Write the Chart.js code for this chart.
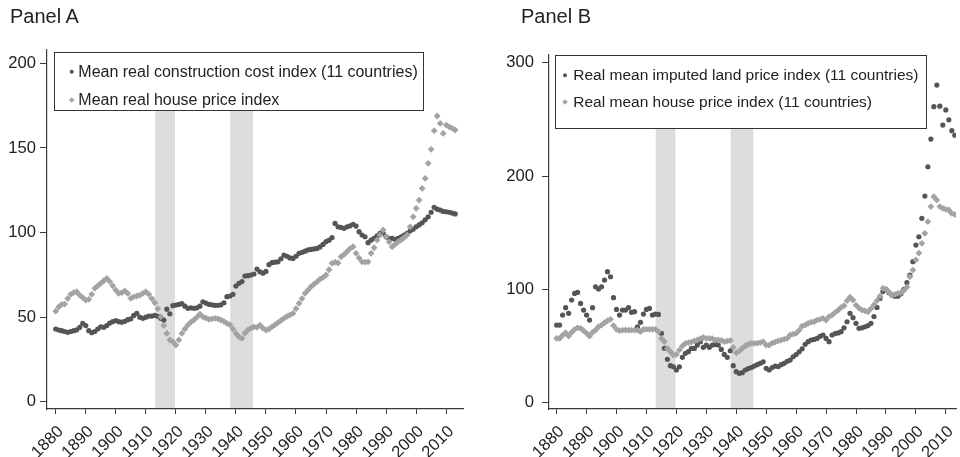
<!DOCTYPE html>
<html><head><meta charset="utf-8">
<script src="https://cdn.jsdelivr.net/npm/chart.js@4.4.1/dist/chart.umd.min.js"></script>
<style>
html,body{margin:0;padding:0;background:#fff;width:960px;height:457px;overflow:hidden;font-family:"Liberation Sans",Arial,Helvetica,sans-serif;color:#222;}
canvas{position:absolute;top:0;}
.title{position:absolute;font-size:20px;line-height:20px;white-space:nowrap;}
</style></head>
<body>
<canvas id="cA" width="480" height="457" style="left:0px;"></canvas>
<canvas id="cB" width="480" height="457" style="left:480px;"></canvas>
<div class="title" style="left:10px;top:6px;" id="tA"></div>
<div class="title" style="left:521px;top:6px;" id="tB"></div>

<script>
// ---------------- data ----------------
const years = [];
for (let y = 1880; y <= 2013; y++) years.push(y);

const titles = ["Panel A", "Panel B"];
const xTicks = [1880,1890,1900,1910,1920,1930,1940,1950,1960,1970,1980,1990,2000,2010];
const yTicksA = [0,50,100,150,200];
const yTicksB = [0,100,200,300];
const warBands = [[1913.1,1919.7],[1938.1,1945.7]];

const labelsA = ["Mean real construction cost index (11 countries)", "Mean real house price index"];
const labelsB = ["Real mean imputed land price index (11 countries)", "Real mean house price index (11 countries)"];

// Panel A: construction cost (dark circles)
const constructionCost = [
 43,42.4,42,41.5,41,41.5,42,42.5,44,46.3,
 45,42,40.8,41.5,43,44.3,44,45,46.5,47.3,
 48,47.3,47,47.5,48.5,49,51,52.2,50,49.3,
 50,50.6,50.6,51,50.5,49.3,48.3,54.7,52,56.8,
 57.1,57.5,58,56.5,55.2,55.5,55.2,55.5,56.5,59.1,
 58.3,57.6,57.3,57,57,57.3,58.5,62.1,62.5,63.5,
 68.4,70,71,74.3,74.5,74.9,75.5,78.4,76.8,76,
 77,81,82.2,82.5,82.7,84.5,86.7,86,85,84.7,
 86,87.7,88.3,89,89.7,90,90.3,90.6,91.5,93,
 94.6,95.5,97,105.4,103.4,103,102.5,103.4,104,104.9,
 103.8,100.5,98.5,97.5,94,95.5,96.6,98,99.5,99.5,
 97.5,96.6,96.6,96,96.6,97.5,98.5,99.5,101,102,
 103.4,104.5,105.8,107.5,109.3,112,114.9,113.8,113.3,112.5,
 112.3,112,111.5,111
];
// Panel A: house price (light diamonds)
const housePriceA = [
 53.5,56,57.5,57.7,61,63.5,64.5,65,63,61.5,
 60.1,60.5,63.5,67,68.5,70,71.5,72.9,71,68.5,
 66,64,64.5,65.5,64,61.1,62,62.5,63,64,
 65,63.5,61,58.5,55,50.2,45,40.4,36.5,35.5,
 33.5,36.5,40.4,43,45.3,47,48.3,50,51.8,50.2,
 49.5,48.7,49,49.3,49,48.3,47.5,46.3,45.5,43,
 40.4,38.4,37.5,40.5,42.4,43.5,44.3,44,45.3,43.5,
 42.4,43,44.3,45.5,46.7,48,49.3,50.5,51.3,52.2,
 55,58.1,61,64.1,66,68,69.5,70.9,72.5,73.5,
 74.9,78,81.8,82.5,82,85.7,87,88.7,90.5,91.6,
 87.7,85,82.7,82.5,82.7,87.7,91,95.6,98.5,101.5,
 97.5,94.5,91.6,93,94.6,95.6,97,98.6,103.4,109.3,
 114.3,119.2,126.1,132,140.9,149.2,160.2,168.9,164.5,158.6,
 163.5,162.5,161.6,160.6
];
// Panel B: imputed land price (dark circles)
const landPrice = [
 68.5,68.5,77.3,83.8,78.8,90.6,96.4,97.3,87.6,81.7,
 77.3,72.9,83.8,102.3,100.3,102.3,108.2,115.6,111.1,92.6,
 82.3,77.3,81.7,81.7,83.8,79.7,80.3,67,70.9,78.2,
 82.3,83.2,77.3,78.2,77.9,61.2,48,38.2,32.6,31.7,
 28.8,31.7,40,43.5,45,47.9,47.9,50.8,53.8,48.8,
 50.8,48.8,50.8,51.4,50.8,47,42.6,40,45.8,32.6,
 27.3,25.9,26.5,28.8,30.1,31,32.3,33.5,34.7,36,
 30.3,28.8,31,32.3,31.8,33.5,34.7,36.5,37.6,40.5,
 42.5,44.9,47.5,51.5,53.8,55.2,55.8,56.7,58.5,59.7,
 56.7,53.8,59.7,61,61.5,62.6,66,71.4,78.8,75,
 70,65.6,66,67,68,70,76,84,92,98,
 100,97,95,94,94,96,100,106,112.6,124.4,
 139.1,146.4,162.7,182.3,208.2,232.6,261.2,280.3,261.6,245,
 258.3,249.6,240,236
];
// Panel B: house price (light diamonds)
const housePriceB = [
 56.7,56.7,59.4,61.7,58.8,62,64.7,66,65.6,63.5,
 61.2,58.8,62,64.1,67,68.5,70.5,72.3,73.5,68,
 64.7,63.5,64,64.1,64,64,64.1,64,62.6,64.7,
 64.7,64.7,64.7,64.7,62.6,56.7,53.8,47.9,44.9,42,
 42.5,46.4,50,52.3,53,53.5,54.5,55.3,56.5,57.6,
 56.7,56.7,56.5,55.3,55.3,55,53.8,54.3,55,48.8,
 44,45.5,48,50,51.5,52.3,52.3,52.5,53,53.8,
 50.8,50.8,52.5,53.5,54.5,55.2,56,56.7,59.7,60.5,
 61.2,64,67.5,68.5,70,71,71.4,72.9,73.5,74.4,
 72.9,76,77.3,79.5,81.5,84,85.5,90,93,90.6,
 86,83.5,81.7,81,80.2,83,86.5,90,94,100.9,
 100,97.5,95,95.5,96.5,97,99,102,111,117,
 126,132,140.6,149.4,159.7,173,181.8,178.8,173,171.5,
 170.5,170,167,166
];

// ---------------- rendering ----------------
document.getElementById('tA').textContent = titles[0];
document.getElementById('tB').textContent = titles[1];

const FONT = '"Liberation Sans", Arial, Helvetica, sans-serif';
Chart.defaults.font.family = FONT;
Chart.defaults.color = '#222';

const DARK = '#555555', LIGHT = '#a3a3a3', SHADE = '#dcdddf', AXIS = '#3a3a3a';

const shadePlugin = {
  id: 'shade',
  beforeDraw(chart) {
    const {ctx, chartArea, scales} = chart;
    const top = chartArea.top + 3;
    ctx.save();
    ctx.fillStyle = SHADE;
    for (const [a, b] of warBands) {
      const x0 = scales.x.getPixelForValue(a), x1 = scales.x.getPixelForValue(b);
      ctx.fillRect(x0, top, x1 - x0, chartArea.bottom - top);
    }
    ctx.restore();
  }
};

// boxed legend drawn on the canvas, on top of everything
const boxLegend = {
  id: 'boxLegend',
  afterDraw(chart, args, o) {
    const ctx = chart.ctx;
    const [bx, by, bw, bh] = o.box;
    ctx.save();
    ctx.fillStyle = '#fff';
    ctx.fillRect(bx, by, bw, bh);
    ctx.strokeStyle = '#333';
    ctx.lineWidth = 1;
    ctx.strokeRect(bx + 0.5, by + 0.5, bw - 1, bh - 1);
    ctx.font = o.fontSize + 'px ' + FONT;
    ctx.textBaseline = 'alphabetic';
    ctx.textAlign = 'left';
    chart.data.datasets.forEach((ds, i) => {
      ctx.fillStyle = ds.backgroundColor;
      Chart.helpers.drawPoint(ctx, {pointStyle: ds.pointStyle, radius: o.markR[i], borderWidth: 0, rotation: 0},
                              o.markX, o.rowY[i] - 5);
      ctx.fillStyle = '#222';
      ctx.fillText(ds.label, o.textX, o.rowY[i]);
    });
    ctx.restore();
  }
};

function pts(vals) { return years.map((yr, i) => ({x: yr, y: vals[i]})); }
function noPad(s) { s.paddingLeft = 0; s.paddingRight = 0; s.paddingTop = 0; s.paddingBottom = 0; }

function build(id, darkVals, lightVals, labels, yTicks, xr, yr, yWidth, yPad, pad, legendOpts) {
  return new Chart(document.getElementById(id), {
    type: 'scatter',
    data: {
      datasets: [
        {label: labels[0], data: pts(darkVals), pointStyle: 'circle', pointRadius: 2.6,
         backgroundColor: DARK, borderWidth: 0, showLine: false, order: 1},
        {label: labels[1], data: pts(lightVals), pointStyle: 'rectRot', pointRadius: 3.4,
         backgroundColor: LIGHT, borderWidth: 0, showLine: false, order: 0}
      ]
    },
    options: {
      responsive: false, animation: false, events: [],
      layout: {padding: pad},
      plugins: {legend: {display: false}, tooltip: {enabled: false}, boxLegend: legendOpts},
      scales: {
        x: {
          type: 'linear', min: xr[0], max: xr[1],
          afterBuildTicks: s => { s.ticks = xTicks.map(v => ({value: v})); },
          afterFit: s => { s.height = 48; noPad(s); },
          grid: {drawOnChartArea: false, drawTicks: true, tickLength: 5, color: AXIS},
          border: {display: true, color: AXIS, width: 1.2},
          ticks: {autoSkip: false, minRotation: 45, maxRotation: 45, padding: 8, labelOffset: 5,
                  font: {size: 16.6}, color: '#222', callback: v => String(v)}
        },
        y: {
          type: 'linear', min: yr[0], max: yr[1],
          afterBuildTicks: s => { s.ticks = yTicks.map(v => ({value: v})); },
          afterFit: s => { s.width = yWidth; noPad(s); },
          grid: {drawOnChartArea: false, drawTicks: true, tickLength: 7, color: AXIS},
          border: {display: true, color: AXIS, width: 1.2},
          ticks: {padding: yPad, font: {size: 16.6}, color: '#222', callback: v => String(v)}
        }
      }
    },
    plugins: [shadePlugin, boxLegend]
  });
}

build('cA', constructionCost, housePriceA, labelsA, yTicksA, [1877.1, 2015.6], [-4.3, 207.9], 47, 4,
      {left: 0, right: 17, top: 50, bottom: 0},
      {box: [54, 52, 370, 59], markX: 71.7, textX: 78.3, rowY: [76.7, 105], markR: [2, 2.8], fontSize: 16});
build('cB', landPrice, housePriceB, labelsB, yTicksB, [1877.45, 2013.4], [-5.6, 306.8], 69, 8,
      {left: 0, right: 0, top: 55, bottom: 0},
      {box: [75, 55, 372, 74], markX: 85, textX: 93.3, rowY: [80.3, 107], markR: [2, 2.8], fontSize: 15.5});
</script>
</body></html>
